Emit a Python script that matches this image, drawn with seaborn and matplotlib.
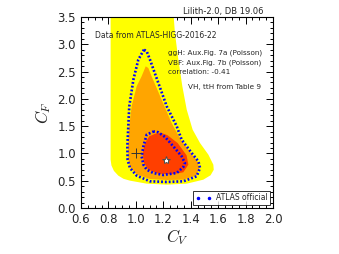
import matplotlib
matplotlib.use("Agg")
import matplotlib.pyplot as plt
from matplotlib.lines import Line2D
from matplotlib.ticker import MultipleLocator
import numpy as np
import seaborn as sns

# ==========================================
# DATA
# ==========================================
# 3 sigma region (yellow), open at the top of the plot
cv_3s = [0.816, 0.816, 0.822, 0.840, 0.872, 0.910, 0.957, 1.079, 1.225, 1.371, 1.492,
         1.545, 1.568, 1.565, 1.529, 1.468, 1.414, 1.371, 1.339, 1.310, 1.285, 1.273]
cf_3s = [3.60, 0.886, 0.780, 0.680, 0.593, 0.535, 0.501, 0.446, 0.428, 0.446, 0.519,
         0.600, 0.700, 0.794, 0.977, 1.191, 1.436, 1.802, 2.230, 2.718, 3.207, 3.60]

# 2 sigma region (orange)
cv_2s = [1.072, 1.042, 1.006, 0.969, 0.952, 0.943, 0.945, 0.962, 1.011, 1.103,
         1.225, 1.346, 1.439, 1.463, 1.448, 1.400, 1.327, 1.261, 1.188, 1.115, 1.091]
cf_2s = [2.596, 2.413, 2.230, 1.863, 1.497, 1.130, 0.886, 0.733, 0.611, 0.531,
         0.513, 0.519, 0.593, 0.733, 0.855, 1.008, 1.252, 1.558, 1.985, 2.413, 2.566]

# 1 sigma region (red)
cv_1s = [1.140, 1.098, 1.067, 1.050, 1.059, 1.091, 1.164, 1.261, 1.346, 1.383,
         1.370, 1.305, 1.230, 1.180]
cf_1s = [1.360, 1.314, 1.191, 1.008, 0.825, 0.703, 0.629, 0.617, 0.654, 0.794,
         0.965, 1.190, 1.335, 1.380]

# ATLAS official contours
cv_atlas_95 = [1.059, 1.018, 0.982, 0.952, 0.945, 0.938, 0.940, 0.957, 1.006, 1.103,
               1.225, 1.346, 1.443, 1.468, 1.456, 1.407, 1.334, 1.298, 1.225, 1.164,
               1.103, 1.079]
cf_atlas_95 = [2.902, 2.718, 2.352, 1.863, 1.497, 1.130, 0.886, 0.733, 0.593, 0.489,
               0.477, 0.489, 0.580, 0.733, 0.855, 1.008, 1.252, 1.497, 1.863, 2.291,
               2.718, 2.872]
cv_atlas_68 = [1.132, 1.079, 1.055, 1.042, 1.055, 1.079, 1.127, 1.200, 1.298, 1.346,
               1.358, 1.334, 1.273, 1.213, 1.164]
cf_atlas_68 = [1.405, 1.344, 1.130, 0.947, 0.794, 0.703, 0.641, 0.605, 0.641, 0.751,
               0.825, 0.947, 1.130, 1.301, 1.387]

best_fit = (1.217, 0.886)
sm_point = (1.0, 1.0)

notes = ["ggH: Aux.Fig. 7a (Poisson)", "VBF: Aux.Fig. 7b (Poisson)", "correlation: -0.41"]

# ==========================================
# PLOT
# ==========================================
sns.set_style("ticks")
plt.rcParams["font.family"] = ["DejaVu Sans"]
plt.rcParams["mathtext.fontset"] = "cm"

fig = plt.figure(figsize=(3.39, 2.54), dpi=100)
ax = fig.add_axes([0.2389, 0.1811, 0.5664, 0.752])

ax.fill(cv_3s, cf_3s, color="#ffff00", lw=0, zorder=1)
ax.fill(cv_2s, cf_2s, color="#ffa500", lw=0, zorder=2)
ax.fill(cv_1s, cf_1s, color="#ff3f00", lw=0, zorder=3)

for cvs, cfs in [(cv_atlas_95, cf_atlas_95), (cv_atlas_68, cf_atlas_68)]:
    xs = list(cvs) + [cvs[0]]
    ys = list(cfs) + [cfs[0]]
    sns.lineplot(x=xs, y=ys, sort=False, estimator=None, ax=ax, color="blue",
                 linewidth=1.9, linestyle=(0, (0.7, 0.75)), zorder=4)

ax.plot(*best_fit, marker="*", color="white", markeredgecolor="0.3",
        markeredgewidth=0.7, markersize=6, linestyle="none", zorder=5)
ax.plot(*sm_point, marker="+", color="0.2", markersize=7, markeredgewidth=0.7,
        linestyle="none", zorder=5)

ax.set_xlim(0.6, 2.0)
ax.set_ylim(0.0, 3.5)
ax.xaxis.set_major_locator(MultipleLocator(0.2))
ax.xaxis.set_minor_locator(MultipleLocator(0.05))
ax.yaxis.set_major_locator(MultipleLocator(0.5))
ax.yaxis.set_minor_locator(MultipleLocator(0.1))
ax.tick_params(which="both", direction="in", top=True, right=True, labelsize=8.5,
               width=0.7, color="black")
ax.tick_params(which="major", length=5)
ax.tick_params(which="minor", length=2.5)
for sp in ax.spines.values():
    sp.set_linewidth(0.8)
    sp.set_color("black")

ax.set_xlabel("$C_V$", fontsize=12, labelpad=1)
ax.set_ylabel("$C_F$", fontsize=12, labelpad=3)

ax.text(0.953, 1.028, "Lilith-2.0, DB 19.06", transform=ax.transAxes,
        ha="right", va="center", fontsize=6)
ax.text(0.073, 0.902, "Data from ATLAS-HIGG-2016-22", transform=ax.transAxes,
        ha="left", va="center", fontsize=5.5)
for i, note in enumerate(notes):
    ax.text(0.455, 0.813 - 0.051 * i, note, transform=ax.transAxes,
            ha="left", va="center", fontsize=5.2)
ax.text(0.559, 0.632, "VH, ttH from Table 9", transform=ax.transAxes,
        ha="left", va="center", fontsize=5.2)

handle = Line2D([], [], color="blue", marker=".", markersize=3, linestyle="none")
leg = ax.legend([handle], ["ATLAS official"], loc="lower right", numpoints=2,
                fontsize=5.5, fancybox=False, frameon=True, borderaxespad=0.4,
                handlelength=2.0, borderpad=0.35, handletextpad=0.6)
leg.get_frame().set_edgecolor("black")
leg.get_frame().set_linewidth(0.7)
leg.set_zorder(6)

fig.savefig("out.png", dpi=100)
